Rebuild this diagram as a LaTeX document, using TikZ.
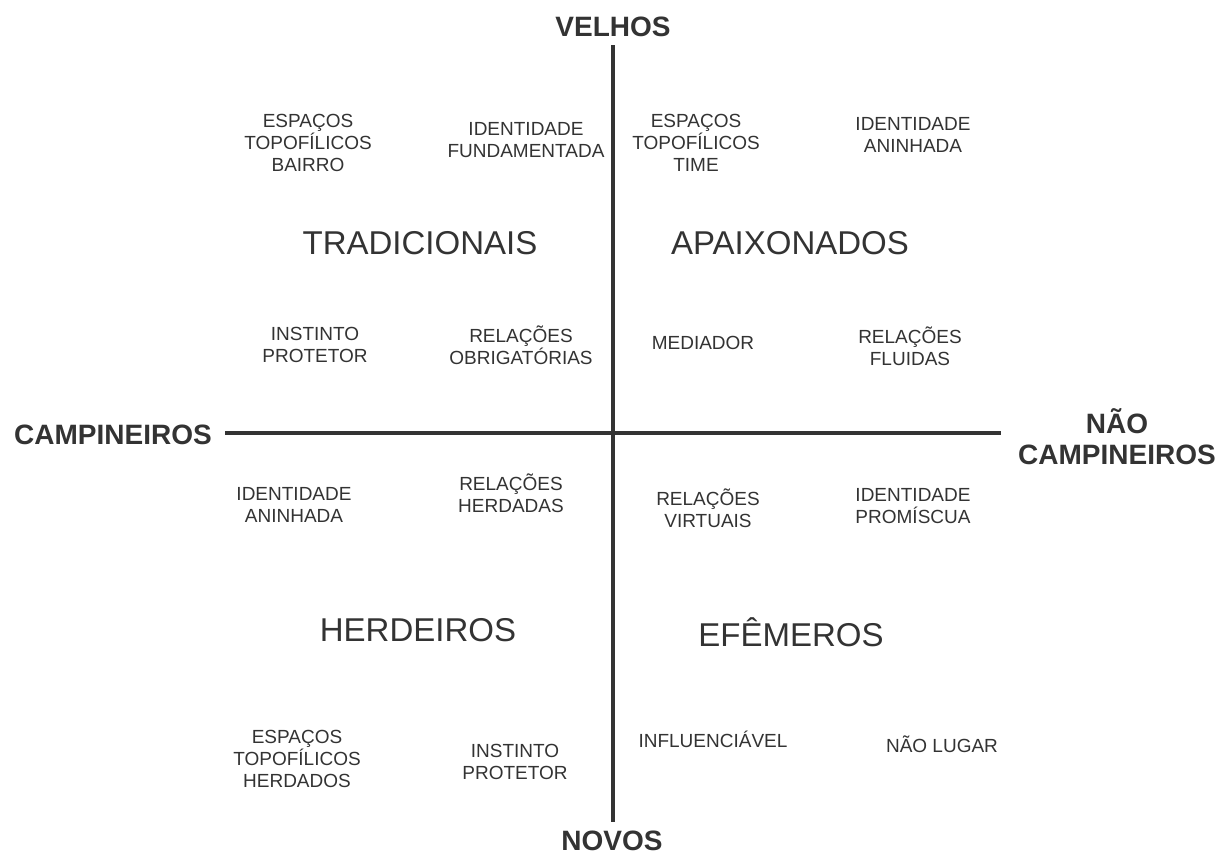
\documentclass[tikz,border=0pt]{standalone}
\usepackage{fontspec}
\setmainfont{Liberation Sans}
\usetikzlibrary{positioning}
\definecolor{dunkelgrau}{rgb}{0.2,0.2,0.2}

\begin{document}
\begin{tikzpicture}[x=1pt,y=-1pt,
    klein/.style={align=center,inner sep=0pt,text=dunkelgrau,font=\fontsize{19}{22}\selectfont},
    gross/.style={inner sep=0pt,text=dunkelgrau,font=\fontsize{33}{38}\selectfont},
    achse/.style={inner sep=0pt,align=center,text=dunkelgrau,font=\bfseries\fontsize{28}{31}\selectfont}]

    \useasboundingbox (0,0) rectangle (1226,855);

    % Achsenbeschriftungen
    \node[achse] (velhos) at (613,27) {VELHOS};
    \node[achse] (novos) at (612,841) {NOVOS};
    \node[achse] (campineiros) at (113,435) {CAMPINEIROS};
    \node[achse] (naocampineiros) at (1117,437) {NÃO\\CAMPINEIROS};

    % Achsen zeichnen
    \coordinate (oben) at (613,45);
    \coordinate (unten) at (613,822);
    \coordinate (links) at (225,433);
    \coordinate (rechts) at (1001,433);
    \draw[dunkelgrau, line width=3.5pt] (oben) -- (unten);
    \draw[dunkelgrau, line width=3.5pt] (links) -- (rechts);

    % Namen der Quadranten
    \foreach \name/\x/\y/\txt in {trad/420/243/TRADICIONAIS, apai/790/243/APAIXONADOS,
        herd/418/630/HERDEIROS, efem/791/632/EFÊMEROS} {
        \node[gross] (\name) at (\x,\y) {\txt};
    }

    % Merkmale in den Quadranten
    \foreach \name/\x/\y/\txt in {
        espbairro/308/143/{ESPAÇOS\\TOPOFÍLICOS\\BAIRRO},
        idfund/526/140/{IDENTIDADE\\FUNDAMENTADA},
        instoben/315/345/{INSTINTO\\PROTETOR},
        relobrig/521/345/{RELAÇÕES\\OBRIGATÓRIAS},
        esptime/696/143/{ESPAÇOS\\TOPOFÍLICOS\\TIME},
        idaninoben/913/135/{IDENTIDADE\\ANINHADA},
        mediador/703/343/{MEDIADOR},
        relfluid/910/346/{RELAÇÕES\\FLUIDAS},
        idaninunten/294/505/{IDENTIDADE\\ANINHADA},
        relherd/511/493/{RELAÇÕES\\HERDADAS},
        espherd/297/759/{ESPAÇOS\\TOPOFÍLICOS\\HERDADOS},
        instunten/515/762/{INSTINTO\\PROTETOR},
        relvirt/708/508/{RELAÇÕES\\VIRTUAIS},
        idprom/913/506/{IDENTIDADE\\PROMÍSCUA},
        influ/713/739/{INFLUENCIÁVEL},
        naolugar/942/744/{NÃO LUGAR}} {
        \node[klein] (\name) at (\x,\y) {\txt};
    }
\end{tikzpicture}
\end{document}
